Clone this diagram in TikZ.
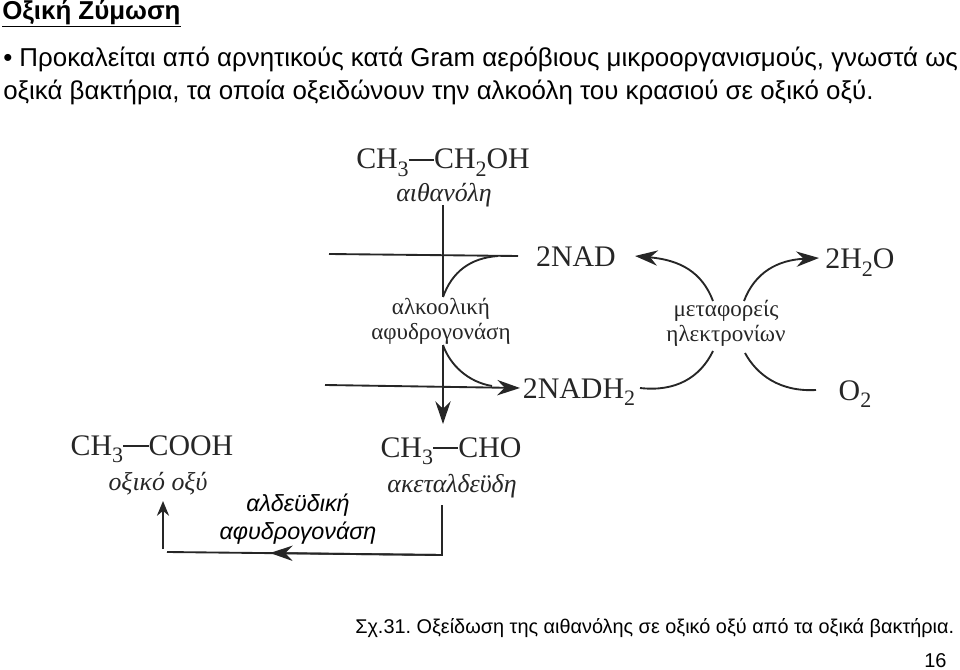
\documentclass[tikz,border=0pt]{standalone}
\usepackage{fontspec}
\setmainfont{Liberation Sans}
\newfontfamily\figfont{Liberation Serif}
\usetikzlibrary{arrows.meta}
\newcommand{\lowsub}[1]{\raisebox{-0.26em}{\fontsize{16.5}{16.5}\selectfont #1}}
\newcommand{\bonddash}{\rule[0.27em]{0.85em}{1.2pt}}
\frenchspacing
\begin{document}
\begin{tikzpicture}[x=0.75pt, y=-0.75pt]
% STYLES
\tikzset{%
    slide/.style={%
inner sep=0pt,
anchor=base west,
font=\fontsize{19.4}{23}\selectfont
                          },
    formula/.style={%
inner sep=0pt,
anchor=base,
text=black!85,
font=\figfont\fontsize{22.4}{25}\selectfont
                          },
    compound/.style={%
inner sep=0pt,
anchor=base,
text=black!85,
font=\figfont\itshape\fontsize{19.4}{22}\selectfont
                          },
    enzyme/.style={%
inner sep=0pt,
align=center,
text=black!85,
font=\figfont\fontsize{17.3}{19}\selectfont
                          },
    flow/.style={line width=1.4pt, black!85},
    tipflow/.style={flow, -{Stealth[length=17pt, width=11.5pt]}}
             }
\useasboundingbox (0,0) rectangle (960,670);

% Draw slide text
\node [slide, font=\bfseries\fontsize{19.4}{23}\selectfont] (title) at (2,19.5) {\underline{Οξική Ζύμωση}};
\node [slide] (lineone) at (3,67) {• Προκαλείται από αρνητικούς κατά Gram αερόβιους μικροοργανισμούς, γνωστά ως};
\node [slide] (linetwo) at (3,100) {οξικά βακτήρια, τα οποία οξειδώνουν την αλκοόλη του κρασιού σε οξικό οξύ.};
\node [slide, font=\fontsize{14.9}{18}\selectfont] (caption) at (355,633) {Σχ.31. Οξείδωση της αιθανόλης σε οξικό οξύ από τα οξικά βακτήρια.};
\node [slide, font=\fontsize{15}{18}\selectfont] (pagenum) at (924,667) {16};

% Draw compounds
\node [formula] (ethanol) at (443,169) {CH\lowsub{3}\bonddash CH\lowsub{2}OH};
\node [compound] (ethanolname) at (444,202) {αιθανόλη};
\node [formula] (acetald) at (451,457) {CH\lowsub{3}\bonddash CHO};
\node [compound] (acetaldname) at (452,492) {ακεταλδεϋδη};
\node [formula] (acetic) at (152,455) {CH\lowsub{3}\bonddash COOH};
\node [compound] (aceticname) at (158,490) {οξικό οξύ};
\node [formula] (nad) at (576,267) {2NAD};
\node [formula] (nadh) at (579,398) {2NADH\lowsub{2}};
\node [formula] (water) at (860,269) {2H\lowsub{2}O};
\node [formula] (oxygen) at (855,400) {O\lowsub{2}};

% Draw enzymes
\node [enzyme] (alcdehyd) at (441,321) {αλκοολική\\αφυδρογονάση};
\node [enzyme] (carriers) at (726,323) {μεταφορείς\\ηλεκτρονίων};
\node [enzyme, text=black, font=\itshape\fontsize{17.5}{21}\selectfont] (aldehyd) at (298,519) {αλδεϋδική\\αφυδρογονάση};

% Coordinates of the line ends
\coordinate (ethanolout) at (443,205);
\coordinate (alcin) at (443,297);
\coordinate (alcout) at (443,345);
\coordinate (acetaldin) at (443,424);
\coordinate (nadleft) at (329,254);
\coordinate (nadright) at (518,256);
\coordinate (nadhleft) at (325,385);
\coordinate (nadhright) at (520,388);
\coordinate (carrierA) at (713,301);
\coordinate (carrierB) at (744,301);
\coordinate (carrierC) at (713,351);
\coordinate (carrierD) at (745,353);
\coordinate (nadtip) at (635,256);
\coordinate (watertip) at (819,258);
\coordinate (nadhstart) at (640,388);
\coordinate (oxygenend) at (816,390);
\coordinate (acetaldout) at (442,505);
\coordinate (corner) at (442,555);
\coordinate (lowmid) at (270,553);
\coordinate (lowend) at (167,552);
\coordinate (aceticin) at (163,501);
\coordinate (aceticfoot) at (163,549);

% Draw the links
\draw [flow] (ethanolout) -- (alcin);
\draw [tipflow] (alcout) -- (acetaldin);
\draw [flow] (nadleft) -- (nadright);
\draw [tipflow] (nadhleft) -- (nadhright);
\draw [flow] (alcin) .. controls (452,272) and (470,258) .. (498,256);
\draw [flow] (alcout) .. controls (450,365) and (468,382) .. (492,386);
\draw [tipflow] (carrierA) .. controls (702,272) and (680,260) .. (nadtip);
\draw [tipflow] (carrierB) .. controls (755,272) and (778,260) .. (watertip);
\draw [flow] (nadhstart) .. controls (675,392) and (700,378) .. (carrierC);
\draw [flow] (oxygenend) .. controls (780,392) and (757,375) .. (carrierD);
\draw [flow] (acetaldout) -- (corner) -- (lowend);
\draw [tipflow] (corner) -- (lowmid);
\draw [-{Stealth[length=11pt, width=9pt]}, line width=1.9pt, black!85] (aceticfoot) -- (aceticin);
\end{tikzpicture}
\end{document}
